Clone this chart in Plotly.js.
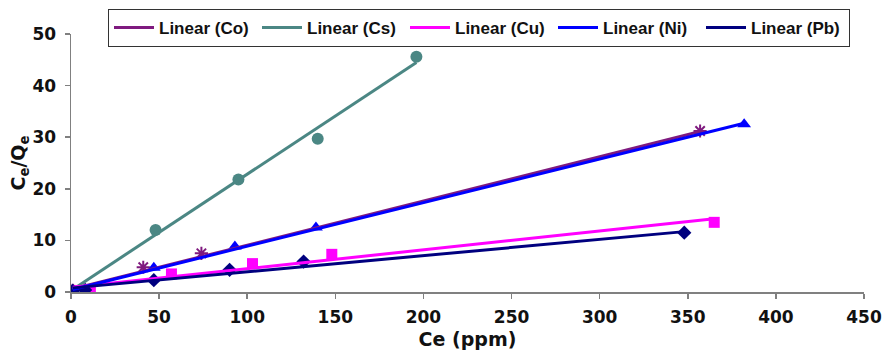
<!DOCTYPE html>
<html>
<head>
<meta charset="utf-8">
<script src="https://cdn.plot.ly/plotly-3.0.1.min.js"></script>
<style>html,body{margin:0;padding:0;background:#fff;}#chart{width:882px;height:354px;}</style>
</head>
<body>
<div id="chart"></div>
<script>
// Measured data points
const coX = [1, 41, 74, 357];
const coY = [0.3, 4.8, 7.5, 31.2];
const csX = [1, 48, 95, 140, 196];
const csY = [0.3, 12.0, 21.8, 29.7, 45.6];
const cuX = [1, 11, 57, 103, 148, 365];
const cuY = [0.3, 0.5, 3.5, 5.5, 7.3, 13.5];
const niX = [1, 47, 93, 139, 382];
const niY = [0.3, 4.7, 8.8, 12.5, 32.5];
const pbX = [1, 8, 47, 90, 132, 348];
const pbY = [0.2, 0.4, 2.3, 4.3, 5.9, 11.5];

// Linear trendlines (endpoints)
const coFitX = [1, 357];  const coFitY = [0.6, 31.1];
const csFitX = [1, 196];  const csFitY = [0.5, 44.5];
const cuFitX = [1, 365];  const cuFitY = [0.9, 14.2];
const niFitX = [1, 382];  const niFitY = [0.5, 32.7];
const pbFitX = [1, 348];  const pbFitY = [0.8, 11.7];

const legendNames = ['Linear (Co)', 'Linear (Cs)', 'Linear (Cu)', 'Linear (Ni)', 'Linear (Pb)'];

const cCo = '#7f1a7f', cCs = '#4b8784', cCu = '#ff00ff', cNi = '#0000ff', cPb = '#00007f';

function pts(x, y, color, symbol, size, open) {
  return {x: x, y: y, mode: 'markers', type: 'scatter', showlegend: false, hoverinfo: 'skip',
    marker: {color: color, symbol: symbol, size: size, line: {color: color, width: open ? 2 : 0}}};
}
function fit(x, y, color, name) {
  return {x: x, y: y, mode: 'lines', type: 'scatter', name: name, line: {color: color, width: 3}};
}

const traces = [
  pts(csX, csY, cCs, 'circle', 12, false),
  pts(coX, coY, cCo, 'asterisk-open', 11, true),
  pts(cuX, cuY, cCu, 'square', 11, false),
  pts(niX, niY, cNi, 'triangle-up', 12, false),
  pts(pbX, pbY, cPb, 'diamond', 11, false),
  fit(coFitX, coFitY, cCo, legendNames[0]),
  fit(csFitX, csFitY, cCs, legendNames[1]),
  fit(cuFitX, cuFitY, cCu, legendNames[2]),
  fit(niFitX, niFitY, cNi, legendNames[3]),
  fit(pbFitX, pbFitY, cPb, legendNames[4])
];

const wideFont = 'DejaVu Sans, sans-serif';
const tickFont = {family: wideFont, size: 17, color: '#111', weight: 'bold'};

const layout = {
  width: 882, height: 354,
  margin: {l: 71, r: 18, t: 34, b: 62, autoexpand: false},
  paper_bgcolor: '#fff', plot_bgcolor: '#fff',
  showlegend: true,
  xaxis: {
    range: [0, 450], dtick: 50, tick0: 0,
    showgrid: false, zeroline: false,
    showline: true, linecolor: '#808080', linewidth: 1.5,
    ticks: 'outside', ticklen: 5, tickcolor: '#808080', tickwidth: 1.5,
    tickfont: tickFont, ticklabelstandoff: 4,
    title: {text: 'Ce (ppm)', font: {family: wideFont, size: 19, color: '#111', weight: 'bold'}, standoff: 7}
  },
  yaxis: {
    range: [0, 50], dtick: 10, tick0: 0,
    showgrid: false, zeroline: false,
    showline: true, linecolor: '#808080', linewidth: 1.5,
    ticks: 'outside', ticklen: 5, tickcolor: '#808080', tickwidth: 1.5,
    tickfont: tickFont, ticklabelstandoff: 5,
    title: {text: 'C<sub>e</sub>/Q<sub>e</sub>', font: {family: wideFont, size: 19, color: '#111', weight: 'bold'}, standoff: 0}
  },
  legend: {
    orientation: 'h', xref: 'container', yref: 'container',
    x: 108 / 882, xanchor: 'left', y: 1 - 9 / 354, yanchor: 'top',
    bordercolor: '#333', borderwidth: 1, bgcolor: '#fff',
    font: {family: 'Liberation Sans, Arial, sans-serif', size: 17, color: '#111', weight: 'bold'},
    entrywidth: 93, entrywidthmode: 'pixels',
    itemwidth: 40, tracegroupgap: 0
  }
};

Plotly.newPlot('chart', traces, layout, {displayModeBar: false, staticPlot: true});
</script>
</body>
</html>
